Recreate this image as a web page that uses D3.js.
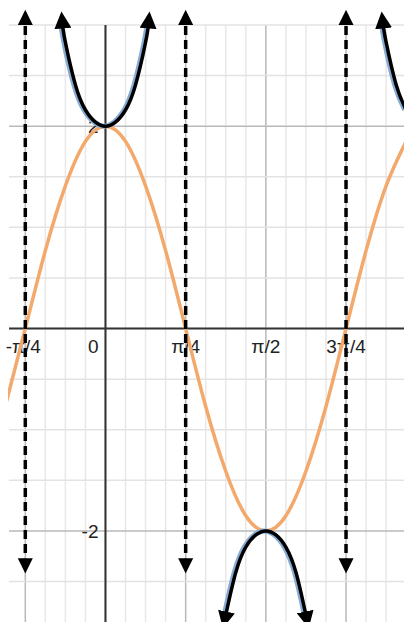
<!DOCTYPE html>
<html>
<head>
<meta charset="utf-8">
<script src="https://cdn.jsdelivr.net/npm/d3@7"></script>
<style>
  body { margin: 0; background: #fff; }
  svg { display: block; }
  .lbl { font-family: "Liberation Sans", Arial, sans-serif; font-size: 19px; fill: #222; }
</style>
</head>
<body>
<div id="chart"></div>
<script>
// y = 2cos(2x) and its reciprocal y = 2sec(2x)
var PI = Math.PI;

// tick labels along the axes
var xLabelVals = [-PI / 4, 0, PI / 4, PI / 2, 3 * PI / 4],
    xLabelText = ["-π/4", "0", "π/4", "π/2", "3π/4"];
var yLabelVals = [2, -2],
    yLabelText = ["2", "-2"];

// asymptotes of the secant
var asymptotes = [-PI / 4, PI / 4, 3 * PI / 4];

// cosine curve, sampled every π/16
var cosX = [-5, -4, -3, -2, -1, 0, 1, 2, 3, 4, 5, 6, 7, 8, 9, 10, 11, 12, 13, 14, 15].map(function(k) { return k * PI / 16; });
var cosY = [-0.77, 0, 0.77, 1.41, 1.85, 2, 1.85, 1.41, 0.77, 0, -0.77, -1.41, -1.85, -2, -1.85, -1.41, -0.77, 0, 0.77, 1.41, 1.85];

// secant branches
var secAX = [-0.42, -0.393, -0.295, -0.196, -0.098, 0, 0.098, 0.196, 0.295, 0.393, 0.42],
    secAY = [3.0, 2.83, 2.41, 2.16, 2.04, 2, 2.04, 2.16, 2.41, 2.83, 3.0];
var secBX = [1.178, 1.276, 1.374, 1.473, 1.571, 1.669, 1.767, 1.866, 1.963],
    secBY = [-2.83, -2.41, -2.16, -2.04, -2, -2.04, -2.16, -2.41, -2.83];
var secCX = [2.72, 2.749, 2.847, 2.945],
    secCY = [3.0, 2.83, 2.41, 2.16];

// settings
var W = 404, H = 622,
    padLeft = 9, padTop = 25;

var x = d3.scaleLinear().domain([-0.945, 2.924]).range([padLeft, W]);
var y = d3.scaleLinear().domain([3, -2.9]).range([padTop, H]);

var svg = d3.select("#chart").append("svg")
    .attr("width", W)
    .attr("height", H);

var defs = svg.append("defs");
defs.append("clipPath").attr("id", "plot")
    .append("rect").attr("x", 8).attr("y", 0).attr("width", W - 8).attr("height", H);

defs.append("marker")
    .attr("id", "head")
    .attr("viewBox", "0 0 10 10")
    .attr("refX", 2).attr("refY", 5)
    .attr("markerUnits", "userSpaceOnUse")
    .attr("markerWidth", 17).attr("markerHeight", 17)
    .attr("orient", "auto-start-reverse")
    .append("path").attr("d", "M0,0 L10,5 L0,10 Z").attr("fill", "#000");

// grid
var vMinor = d3.range(-4, 15).map(function(k) { return k * PI / 16; }),
    hLines = d3.range(-2.5, 3.01, 0.5);

var grid = svg.append("g");
grid.selectAll(".vg").data(vMinor).enter().append("line")
    .attr("x1", function(d) { return x(d); }).attr("x2", function(d) { return x(d); })
    .attr("y1", padTop).attr("y2", H)
    .attr("stroke", function(d, i) { return i % 4 === 0 ? "#b9b9b9" : "#e8e8e8"; })
    .attr("stroke-width", 1.5);
grid.selectAll(".hg").data(hLines).enter().append("line")
    .attr("x1", padLeft).attr("x2", W)
    .attr("y1", function(d) { return y(d); }).attr("y2", function(d) { return y(d); })
    .attr("stroke", function(d) { return Math.abs(d) === 2 ? "#b9b9b9" : "#e3e3e3"; })
    .attr("stroke-width", 1.5);

// axes
svg.append("line")
    .attr("x1", x(0)).attr("x2", x(0)).attr("y1", padTop).attr("y2", H)
    .attr("stroke", "#333").attr("stroke-width", 2);
svg.append("line")
    .attr("x1", padLeft).attr("x2", W).attr("y1", y(0)).attr("y2", y(0))
    .attr("stroke", "#333").attr("stroke-width", 2);

// labels
svg.selectAll(".xl").data(xLabelVals).enter().append("text")
    .attr("class", "lbl")
    .attr("x", function(d, i) { return i === 1 ? x(d) - 7 : x(d) - (i === 0 ? 2 : 0); })
    .attr("y", y(0) + 24)
    .attr("text-anchor", function(d, i) { return i === 1 ? "end" : "middle"; })
    .text(function(d, i) { return xLabelText[i]; });
svg.selectAll(".yl").data(yLabelVals).enter().append("text")
    .attr("class", "lbl")
    .attr("x", x(0) - 7)
    .attr("y", function(d) { return y(d) + 7; })
    .attr("text-anchor", "end")
    .text(function(d, i) { return yLabelText[i]; });

// curves
var line = d3.line()
    .x(function(d) { return x(d[0]); })
    .y(function(d) { return y(d[1]); })
    .curve(d3.curveNatural);

function pairs(xs, ys) { return xs.map(function(v, i) { return [v, ys[i]]; }); }

var curves = svg.append("g").attr("clip-path", "url(#plot)");

curves.append("path")
    .attr("d", line(pairs(cosX, cosY)))
    .attr("fill", "none").attr("stroke", "#f3a86c").attr("stroke-width", 3.5);

var branches = [pairs(secAX, secAY), pairs(secBX, secBY), pairs(secCX, secCY)];
curves.selectAll(".secBlue").data(branches).enter().append("path")
    .attr("d", line)
    .attr("transform", "translate(-1.5,0)")
    .attr("fill", "none").attr("stroke", "#86acd6").attr("stroke-width", 5);
curves.selectAll(".secBlack").data(branches).enter().append("path")
    .attr("d", line)
    .attr("fill", "none").attr("stroke", "#000").attr("stroke-width", 3.5)
    .attr("marker-start", "url(#head)")
    .attr("marker-end", function(d, i) { return i === 2 ? null : "url(#head)"; });

// dashed asymptotes with arrows
var asym = svg.append("g");
asym.selectAll(".as").data(asymptotes).enter().append("line")
    .attr("x1", function(d) { return x(d); }).attr("x2", function(d) { return x(d); })
    .attr("y1", y(2.99)).attr("y2", y(-2.27))
    .attr("stroke", "#000").attr("stroke-width", 3.5)
    .attr("stroke-dasharray", "9,5");
asym.selectAll(".au").data(asymptotes).enter().append("path")
    .attr("d", function(d) {
        var cx = x(d), b = y(3), t = y(3.15);
        return "M" + (cx - 7.5) + "," + b + "L" + cx + "," + t + "L" + (cx + 7.5) + "," + b + "Z";
    })
    .attr("fill", "#000");
asym.selectAll(".ad").data(asymptotes).enter().append("path")
    .attr("d", function(d) {
        var cx = x(d), b = y(-2.27), t = y(-2.42);
        return "M" + (cx - 7.5) + "," + b + "L" + cx + "," + t + "L" + (cx + 7.5) + "," + b + "Z";
    })
    .attr("fill", "#000");
</script>
</body>
</html>
